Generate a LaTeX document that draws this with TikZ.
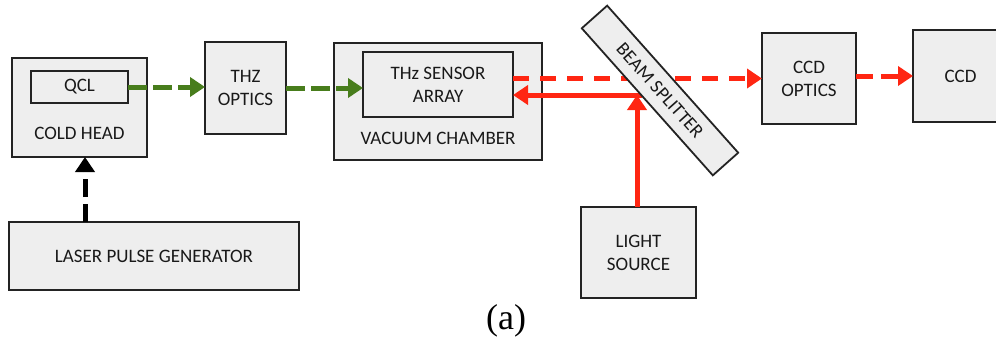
\documentclass[tikz,border=0pt]{standalone}
\usepackage{fontspec}
\setmainfont{Carlito}
\newfontfamily\capfont{Liberation Serif}
\usetikzlibrary{arrows.meta,calc}
\definecolor{boxfill}{RGB}{238,238,238}
\definecolor{boxline}{RGB}{35,35,35}
\definecolor{beamgreen}{RGB}{72,125,28}
\definecolor{beamred}{RGB}{255,38,18}
\definecolor{txt}{RGB}{25,25,25}
\begin{document}
\begin{tikzpicture}[x=1pt,y=-1pt,
  blk/.style={draw=boxline, fill=boxfill, line width=1.8pt, inner sep=0pt, outer sep=0pt},
  lbl/.style={font=\fontsize{19}{23}\selectfont, text=txt, align=center, inner sep=0pt},
  beam/.style={line width=5pt, -{Triangle[length=15pt,width=19pt]}},
  gbeam/.style={beam, draw=beamgreen, dash pattern=on 19pt off 6pt},
  rdash/.style={beam, draw=beamred, dash pattern=on 16pt off 11pt},
  rdashb/.style={beam, draw=beamred, dash pattern=on 17pt off 8pt},
  rbeam/.style={beam, draw=beamred},
  kbeam/.style={beam, draw=black, dash pattern=on 18pt off 7pt}
]
\useasboundingbox (0,0) rectangle (996,343);
\clip (0,0) rectangle (996,343);

% boxes
\node[blk, minimum width=135pt, minimum height=99pt] (coldhead) at (79.5,107.5) {};
\node[blk, lbl, minimum width=97pt, minimum height=32pt] (qcl) at (79.5,87) {QCL};
\node[lbl] (coldlbl) at (79.5,133) {COLD HEAD};

\node[blk, lbl, minimum width=81pt, minimum height=92pt] (thzopt) at (245.5,88) {THZ\\OPTICS};

\node[blk, minimum width=208pt, minimum height=117pt] (vac) at (438,101.5) {};
\node[blk, lbl, minimum width=150pt, minimum height=65pt] (sensor) at (438,84.5) {THz SENSOR\\ARRAY};
\node[lbl] (vaclbl) at (438,138) {VACUUM CHAMBER};

\node[blk, lbl, minimum width=94pt, minimum height=91pt] (ccdopt) at (809,78.5) {CCD\\OPTICS};
\node[blk, lbl, minimum width=95pt, minimum height=92pt] (ccd) at (960.5,76) {CCD};

\node[blk, lbl, minimum width=115pt, minimum height=91pt] (light) at (638.5,252.5) {LIGHT\\SOURCE};
\node[blk, lbl, minimum width=290pt, minimum height=68pt] (laser) at (154,256) {LASER PULSE GENERATOR};

% connectors
\draw[gbeam] (qcl.east) -- (qcl.east -| thzopt.west);
\draw[gbeam] (thzopt.east) -- (thzopt.east -| sensor.west);
\draw[kbeam] ([xshift=5.5pt]coldhead.south |- laser.north) -- ([xshift=5.5pt]coldhead.south);

\draw[rdash] (sensor.east |- ccdopt.west) -- (ccdopt.west);
\draw[rdashb] (ccdopt.east |- ccd.west) -- (ccd.west);

\coordinate (hit) at (637,95);
\draw[rbeam] ([xshift=5pt]hit) -- (hit -| sensor.east);
\draw[rbeam] (light.north -| hit) -- (hit);

% beam splitter
\node[blk, lbl, rotate=-48.3, minimum width=197pt, minimum height=34pt] (bs) at (660,90.5) {BEAM SPLITTER};

% caption
\node[font=\capfont\fontsize{36}{40}\selectfont, inner sep=0pt] (cap) at (506,321) {(a)};
\end{tikzpicture}
\end{document}
